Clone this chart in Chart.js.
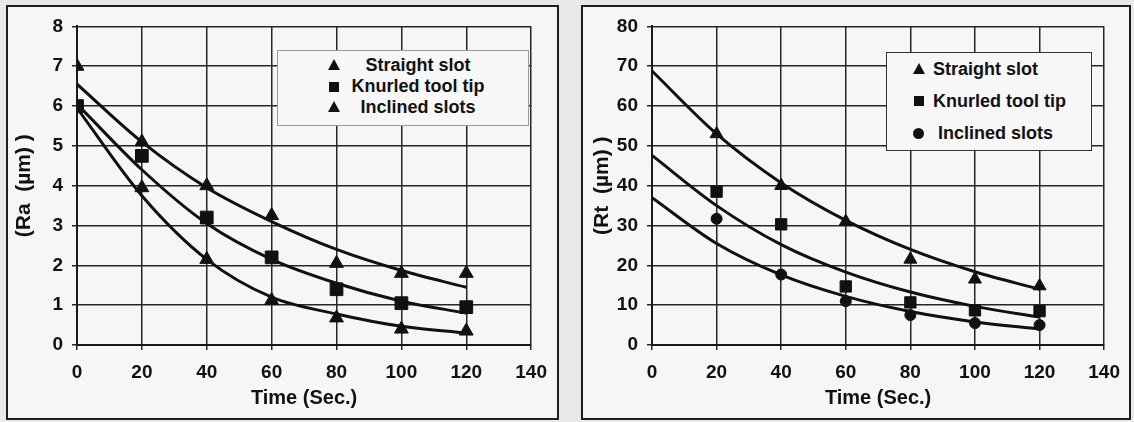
<!DOCTYPE html>
<html lang="en">
  <head>
    <meta charset="UTF-8" />
    <title>Ra and Rt vs time</title>
    <script src="https://cdn.jsdelivr.net/npm/chart.js"></script>
    <style>
      body {
        margin: 0;
        width: 1134px;
        height: 422px;
        background: #e9e9e9;
        position: relative;
        overflow: hidden;
        font-family: "Liberation Sans", Arial, sans-serif;
      }
      .panel {
        position: absolute;
        top: 5px;
        height: 411px;
        border: 2px solid #1e1e1e;
        background: #f6f6f6;
      }
      #panelRa { left: 6px; width: 549px; }
      #panelRt { left: 581px; width: 546px; }
      canvas { position: absolute; top: 6px; }
      #raChart { left: 8px; }
      #rtChart { left: 583px; }
      .legend {
        position: absolute;
        background: #f7f7f7;
        color: #111;
        font-weight: bold;
        font-size: 18px;
      }
      .legend div { white-space: nowrap; position: relative; }
      .mk { position: absolute; display: block; }
      .tri {
        width: 0; height: 0;
        border-left: 6px solid transparent;
        border-right: 6px solid transparent;
        border-bottom: 11px solid #111;
      }
      .sq { width: 10px; height: 10px; background: #111; }
      .dot { width: 11px; height: 11px; border-radius: 50%; background: #111; }
      #legendRa {
        left: 277px; top: 50px; width: 250px; height: 74px;
        border: 1px solid #9a9a9a;
      }
      #legendRa div { height: 21px; line-height: 21px; text-align: center; padding-left: 30px; }
      #legendRt {
        left: 886px; top: 52px; width: 204px; height: 97px;
        border: 1px solid #333;
      }
      #legendRt div { height: 32px; line-height: 32px; padding-left: 46px; }
    </style>
  </head>
  <body>
    <div class="panel" id="panelRa"></div>
    <div class="panel" id="panelRt"></div>
    <canvas id="raChart" width="550" height="414"></canvas>
    <canvas id="rtChart" width="548" height="414"></canvas>

    <div class="legend" id="legendRa">
      <div style="margin-top:4px"><span class="mk tri" style="left:50px;top:4px"></span>Straight slot</div>
      <div><span class="mk sq" style="left:51px;top:6px"></span>Knurled tool tip</div>
      <div><span class="mk tri" style="left:50px;top:4px"></span>Inclined slots</div>
    </div>
    <div class="legend" id="legendRt">
      <div style="margin-top:0px"><span class="mk tri" style="left:26px;top:10px"></span>Straight slot</div>
      <div><span class="mk sq" style="left:27px;top:11px"></span>Knurled tool tip</div>
      <div><span class="mk dot" style="left:26px;top:11px"></span>&nbsp;Inclined slots</div>
    </div>

    <script>
      // x ticks shared by both panels
      var xTicks = [0, 20, 40, 60, 80, 100, 120, 140];
      var raTicks = [0, 1, 2, 3, 4, 5, 6, 7, 8];
      var rtTicks = [0, 10, 20, 30, 40, 50, 60, 70, 80];

      // Ra panel: measured points
      var raTimes = [0, 20, 40, 60, 80, 100, 120];
      var raStraight = [7.0, 5.1, 4.0, 3.25, 2.05, 1.8, 1.8];
      var raKnurled = [6.0, 4.75, 3.2, 2.2, 1.4, 1.05, 0.95];
      var raInclined = [6.0, 3.95, 2.15, 1.12, 0.68, 0.4, 0.35];
      // Ra panel: trend curves
      var raStraightFit = [6.55, 5.1, 3.95, 3.1, 2.4, 1.87, 1.45];
      var raKnurledFit = [6.05, 4.4, 3.05, 2.15, 1.55, 1.1, 0.8];
      var raInclinedFit = [5.95, 3.75, 2.15, 1.2, 0.78, 0.47, 0.3];

      // Rt panel: measured points (no reading at t = 0)
      var rtTimes = [20, 40, 60, 80, 100, 120];
      var rtStraight = [53, 40, 31, 21.5, 16.5, 14.8];
      var rtKnurled = [38.5, 30.3, 14.7, 10.7, 8.7, 8.5];
      var rtInclined = [31.7, 17.7, 11, 7.5, 5.5, 5];
      // Rt panel: trend curves
      var rtFitTimes = [0, 20, 40, 60, 80, 100, 120];
      var rtStraightFit = [68.8, 53, 40.7, 31.3, 24, 18.4, 14];
      var rtKnurledFit = [47.6, 35, 25.2, 18.3, 13.3, 9.7, 7];
      var rtInclinedFit = [37, 25.5, 17.6, 12.2, 8.4, 5.8, 4];

      var INK = "#111";
      var tickFont = { family: "'Liberation Sans', Arial, sans-serif", size: 19, weight: "bold" };
      var titleFont = { family: "'Liberation Sans', Arial, sans-serif", size: 20, weight: "bold" };

      function xy(xs, ys) {
        return ys.map(function (v, i) {
          return { x: xs[i], y: v };
        });
      }

      function marks(label, xs, ys, style, radius) {
        return {
          label: label,
          data: xy(xs, ys),
          showLine: false,
          pointStyle: style,
          pointRadius: radius,
          backgroundColor: INK,
          borderColor: INK,
          borderWidth: 1,
          order: 1,
        };
      }

      function curve(xs, ys) {
        return {
          label: "",
          data: xy(xs, ys),
          showLine: true,
          pointRadius: 0,
          borderColor: INK,
          borderWidth: 3,
          cubicInterpolationMode: "monotone",
          fill: false,
          order: 2,
        };
      }

      function makeChart(id, datasets, yTicks, yTitle, yTitlePad, rightPad) {
        return new Chart(document.getElementById(id).getContext("2d"), {
          type: "scatter",
          data: { datasets: datasets },
          options: {
            responsive: false,
            animation: false,
            layout: { padding: { top: 19, right: rightPad, left: 0, bottom: 0 } },
            plugins: { legend: { display: false }, tooltip: { enabled: false } },
            scales: {
              x: {
                type: "linear",
                min: xTicks[0],
                max: xTicks[xTicks.length - 1],
                afterBuildTicks: function (s) {
                  s.ticks = xTicks.map(function (v) { return { value: v }; });
                },
                afterFit: function (s) { s.height = 75; },
                ticks: { color: INK, font: tickFont, padding: 11, maxRotation: 0 },
                grid: { color: "#262626", lineWidth: 1.5, tickLength: 5 },
                border: { color: "#1a1a1a", width: 2 },
                title: {
                  display: true,
                  text: "Time (Sec.)",
                  color: INK,
                  font: titleFont,
                  padding: { top: 0, bottom: 10 },
                },
              },
              y: {
                min: yTicks[0],
                max: yTicks[yTicks.length - 1],
                afterBuildTicks: function (s) {
                  s.ticks = yTicks.map(function (v) { return { value: v }; });
                },
                afterFit: function (s) { s.width = 69; },
                ticks: { color: INK, font: tickFont, padding: 9 },
                grid: { color: "#262626", lineWidth: 1.5, tickLength: 5 },
                border: { color: "#1a1a1a", width: 2 },
                title: {
                  display: true,
                  text: yTitle,
                  color: INK,
                  font: { family: titleFont.family, size: 21, weight: "bold" },
                  padding: { top: yTitlePad, bottom: 0 },
                },
              },
            },
          },
        });
      }

      makeChart(
        "raChart",
        [
          curve(raTimes, raStraightFit),
          curve(raTimes, raKnurledFit),
          curve(raTimes, raInclinedFit),
          marks("Straight slot", raTimes, raStraight, "triangle", 8),
          marks("Knurled tool tip", raTimes, raKnurled, "rect", 9),
          marks("Inclined slots", raTimes, raInclined, "triangle", 8),
        ],
        raTicks,
        "(Ra  (µm) )",
        4,
        21
      );

      makeChart(
        "rtChart",
        [
          curve(rtFitTimes, rtStraightFit),
          curve(rtFitTimes, rtKnurledFit),
          curve(rtFitTimes, rtInclinedFit),
          marks("Straight slot", rtTimes, rtStraight, "triangle", 7.5),
          marks("Knurled tool tip", rtTimes, rtKnurled, "rect", 8),
          marks("Inclined slots", rtTimes, rtInclined, "circle", 5.5),
        ],
        rtTicks,
        "(Rt  (µm) )",
        7,
        17
      );
    </script>
  </body>
</html>
